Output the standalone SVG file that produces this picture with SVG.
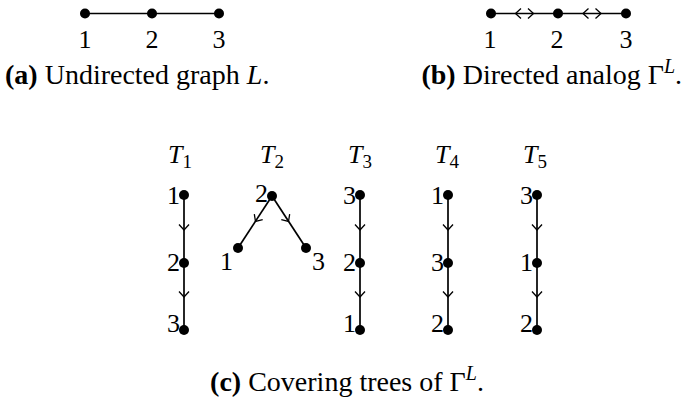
<svg xmlns="http://www.w3.org/2000/svg" width="684" height="408" viewBox="0 0 684 408">
<defs>
<path id="chev" d="M-5.5,-5 L0,0 L-5.5,5" fill="none" stroke="#000" stroke-width="1.3"/>
</defs>
<rect width="684" height="408" fill="#fff"/>

<g id="connectors" stroke="#000" stroke-width="1.7" fill="none">
<line x1="85" y1="13.5" x2="219" y2="13.5"/>
<line x1="491" y1="13.5" x2="626" y2="13.5"/>
<use href="#chev" transform="translate(515.5,13.5) rotate(180)"/>
<use href="#chev" transform="translate(533.5,13.5)"/>
<use href="#chev" transform="translate(583,13.5) rotate(180)"/>
<use href="#chev" transform="translate(601,13.5)"/>
<line x1="184" y1="195" x2="184" y2="330"/>
<use href="#chev" transform="translate(184,230) rotate(90)"/>
<use href="#chev" transform="translate(184,297) rotate(90)"/>
<line x1="272" y1="196" x2="238" y2="248"/>
<line x1="272" y1="196" x2="306" y2="248"/>
<use href="#chev" transform="translate(255.5,221.5) rotate(123.2)"/>
<use href="#chev" transform="translate(288.5,221.5) rotate(56.8)"/>
<line x1="360" y1="195" x2="360" y2="330"/>
<use href="#chev" transform="translate(360,230) rotate(90)"/>
<use href="#chev" transform="translate(360,297) rotate(90)"/>
<line x1="448" y1="195" x2="448" y2="330"/>
<use href="#chev" transform="translate(448,230) rotate(90)"/>
<use href="#chev" transform="translate(448,297) rotate(90)"/>
<line x1="537" y1="195" x2="537" y2="330"/>
<use href="#chev" transform="translate(537,230) rotate(90)"/>
<use href="#chev" transform="translate(537,297) rotate(90)"/>
</g>

<g font-family="Liberation Serif" font-size="26" fill="#000">
<g id="panel-a">
<g id="a1"><circle cx="85" cy="13.5" r="5"/><text x="85" y="48" text-anchor="middle">1</text></g>
<g id="a2"><circle cx="152" cy="13.5" r="5"/><text x="152" y="48" text-anchor="middle">2</text></g>
<g id="a3"><circle cx="219" cy="13.5" r="5"/><text x="219" y="48" text-anchor="middle">3</text></g>
<text id="cap-a" font-size="28" x="5" y="84"><tspan font-weight="bold">(a)</tspan> Undirected graph <tspan font-style="italic">L</tspan>.</text>
</g>

<g id="panel-b">
<g id="b1"><circle cx="491" cy="13.5" r="5"/><text x="490" y="48" text-anchor="middle">1</text></g>
<g id="b2"><circle cx="558" cy="13.5" r="5"/><text x="557" y="48" text-anchor="middle">2</text></g>
<g id="b3"><circle cx="626" cy="13.5" r="5"/><text x="626" y="48" text-anchor="middle">3</text></g>
<text id="cap-b" font-size="28" x="682" y="84" text-anchor="end"><tspan font-weight="bold">(b)</tspan> Directed analog &#915;<tspan font-style="italic" font-size="20" dy="-11">L</tspan><tspan dy="11">.</tspan></text>
</g>

<g id="T1">
<text font-style="italic" x="168" y="163">T<tspan font-style="normal" font-size="19" dy="5">1</tspan></text>
<g id="T1-n1"><circle cx="184" cy="195" r="5"/><text x="180" y="204" text-anchor="end">1</text></g>
<g id="T1-n2"><circle cx="184" cy="263" r="5"/><text x="180" y="271" text-anchor="end">2</text></g>
<g id="T1-n3"><circle cx="184" cy="330" r="5"/><text x="180" y="332" text-anchor="end">3</text></g>
</g>

<g id="T2">
<text font-style="italic" x="260" y="163">T<tspan font-style="normal" font-size="19" dy="5">2</tspan></text>
<g id="T2-n2"><circle cx="272" cy="196" r="5"/><text x="268" y="202" text-anchor="end">2</text></g>
<g id="T2-n1"><circle cx="238" cy="248" r="5"/><text x="233" y="270" text-anchor="end">1</text></g>
<g id="T2-n3"><circle cx="306" cy="248" r="5"/><text x="312" y="270">3</text></g>
</g>

<g id="T3">
<text font-style="italic" x="348" y="163">T<tspan font-style="normal" font-size="19" dy="5">3</tspan></text>
<g id="T3-n3"><circle cx="360" cy="195" r="5"/><text x="356" y="204" text-anchor="end">3</text></g>
<g id="T3-n2"><circle cx="360" cy="263" r="5"/><text x="356" y="271" text-anchor="end">2</text></g>
<g id="T3-n1"><circle cx="360" cy="330" r="5"/><text x="356" y="332" text-anchor="end">1</text></g>
</g>

<g id="T4">
<text font-style="italic" x="435" y="163">T<tspan font-style="normal" font-size="19" dy="5">4</tspan></text>
<g id="T4-n1"><circle cx="448" cy="195" r="5"/><text x="444" y="204" text-anchor="end">1</text></g>
<g id="T4-n3"><circle cx="448" cy="263" r="5"/><text x="444" y="271" text-anchor="end">3</text></g>
<g id="T4-n2"><circle cx="448" cy="330" r="5"/><text x="444" y="332" text-anchor="end">2</text></g>
</g>

<g id="T5">
<text font-style="italic" x="523" y="163">T<tspan font-style="normal" font-size="19" dy="5">5</tspan></text>
<g id="T5-n3"><circle cx="537" cy="195" r="5"/><text x="533" y="204" text-anchor="end">3</text></g>
<g id="T5-n1"><circle cx="537" cy="263" r="5"/><text x="533" y="271" text-anchor="end">1</text></g>
<g id="T5-n2"><circle cx="537" cy="330" r="5"/><text x="533" y="332" text-anchor="end">2</text></g>
</g>

<text id="cap-c" font-size="28" x="347" y="391" text-anchor="middle"><tspan font-weight="bold">(c)</tspan> Covering trees of &#915;<tspan font-style="italic" font-size="20" dy="-11">L</tspan><tspan dy="11">.</tspan></text>
</g>
</svg>
